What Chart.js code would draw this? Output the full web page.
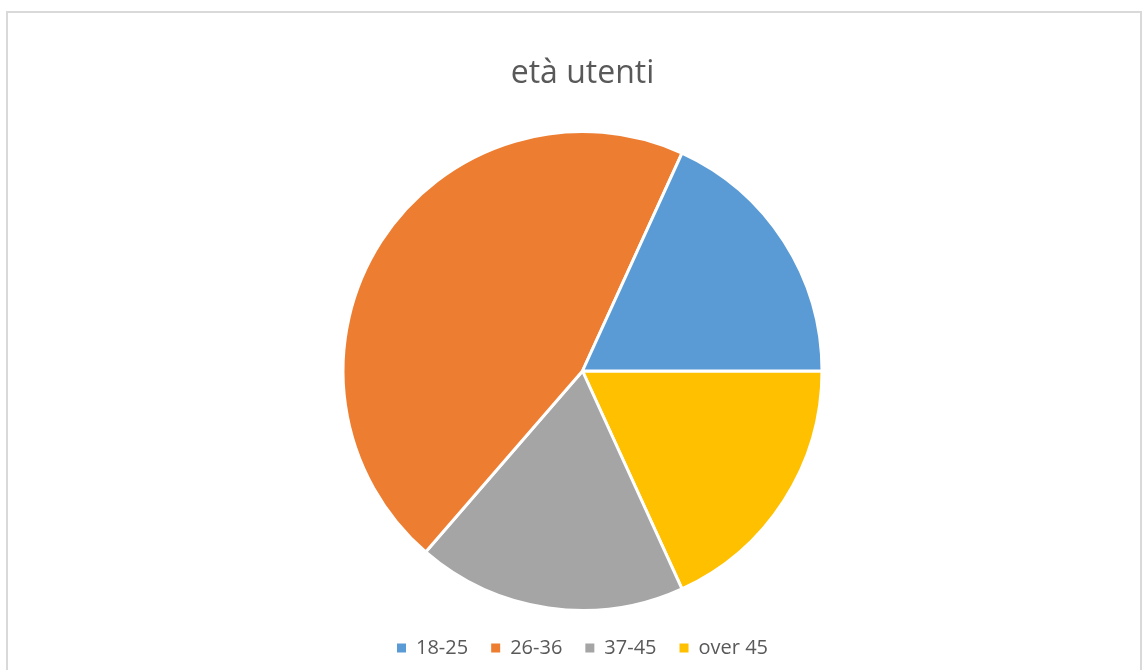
<!DOCTYPE html>
<html>
<head>
<meta charset="utf-8">
<title>età utenti</title>
<script src="https://cdn.jsdelivr.net/npm/chart.js@4"></script>
<style>
    body { margin: 0; background: #fff; overflow: hidden; }
    #wrap { position: relative; width: 1144px; height: 670px; overflow: hidden; }
    #frame {
        position: absolute;
        left: 6px;
        top: 11px;
        width: 1136px;
        height: 700px;
        border: 2px solid #d9d9d9;
        box-sizing: border-box;
    }
    #ageChart { position: absolute; left: 0; top: 0; }
</style>
</head>
<body>
<div id="wrap">
    <div id="frame"></div>
    <canvas id="ageChart" width="1144" height="670"></canvas>
</div>
<script>
/********************************/
/* Pie chart data               */
/********************************/

const chartTitle = 'età utenti';
const ageGroups = ['18-25', '26-36', '37-45', 'over 45'];
const userCounts = [4, 10, 4, 4];
const sliceColors = ['#5B9BD5', '#ED7D31', '#A5A5A5', '#FFC000'];

// Excel draws these slices counter-clockwise, so feed them to Chart.js reversed
const drawOrder = ageGroups.map((_, i) => ageGroups.length - 1 - i);

function legendLabels(chart) {
    const items = Chart.overrides.pie.plugins.legend.labels.generateLabels(chart);
    items.forEach(item => { item.lineWidth = 0; }); // keep the little squares solid
    return items.sort((a, b) => b.index - a.index);
}

function createPieChart() {
    const ctx = document.getElementById('ageChart').getContext('2d');
    new Chart(ctx, {
        type: 'pie',
        data: {
            labels: drawOrder.map(i => ageGroups[i]),
            datasets: [{
                data: drawOrder.map(i => userCounts[i]),
                backgroundColor: drawOrder.map(i => sliceColors[i]),
                borderColor: '#ffffff',
                borderWidth: 3
            }]
        },
        options: {
            responsive: false,
            animation: false,
            rotation: 90,
            radius: 239.5,
            layout: {
                padding: { left: 21, right: 0, top: 0, bottom: 2 }
            },
            plugins: {
                title: {
                    display: true,
                    text: chartTitle,
                    color: '#595959',
                    font: { family: '"Open Sans", sans-serif', size: 32, weight: 'normal' },
                    padding: { top: 55, bottom: 33.6 }
                },
                legend: {
                    position: 'bottom',
                    labels: {
                        color: '#595959',
                        font: { family: '"Open Sans", sans-serif', size: 20 },
                        boxWidth: 9,
                        boxHeight: 9,
                        padding: 23,
                        generateLabels: legendLabels
                    }
                },
                tooltip: { enabled: false }
            }
        }
    });
}

document.addEventListener('DOMContentLoaded', function() {
    createPieChart();
});
</script>
</body>
</html>
